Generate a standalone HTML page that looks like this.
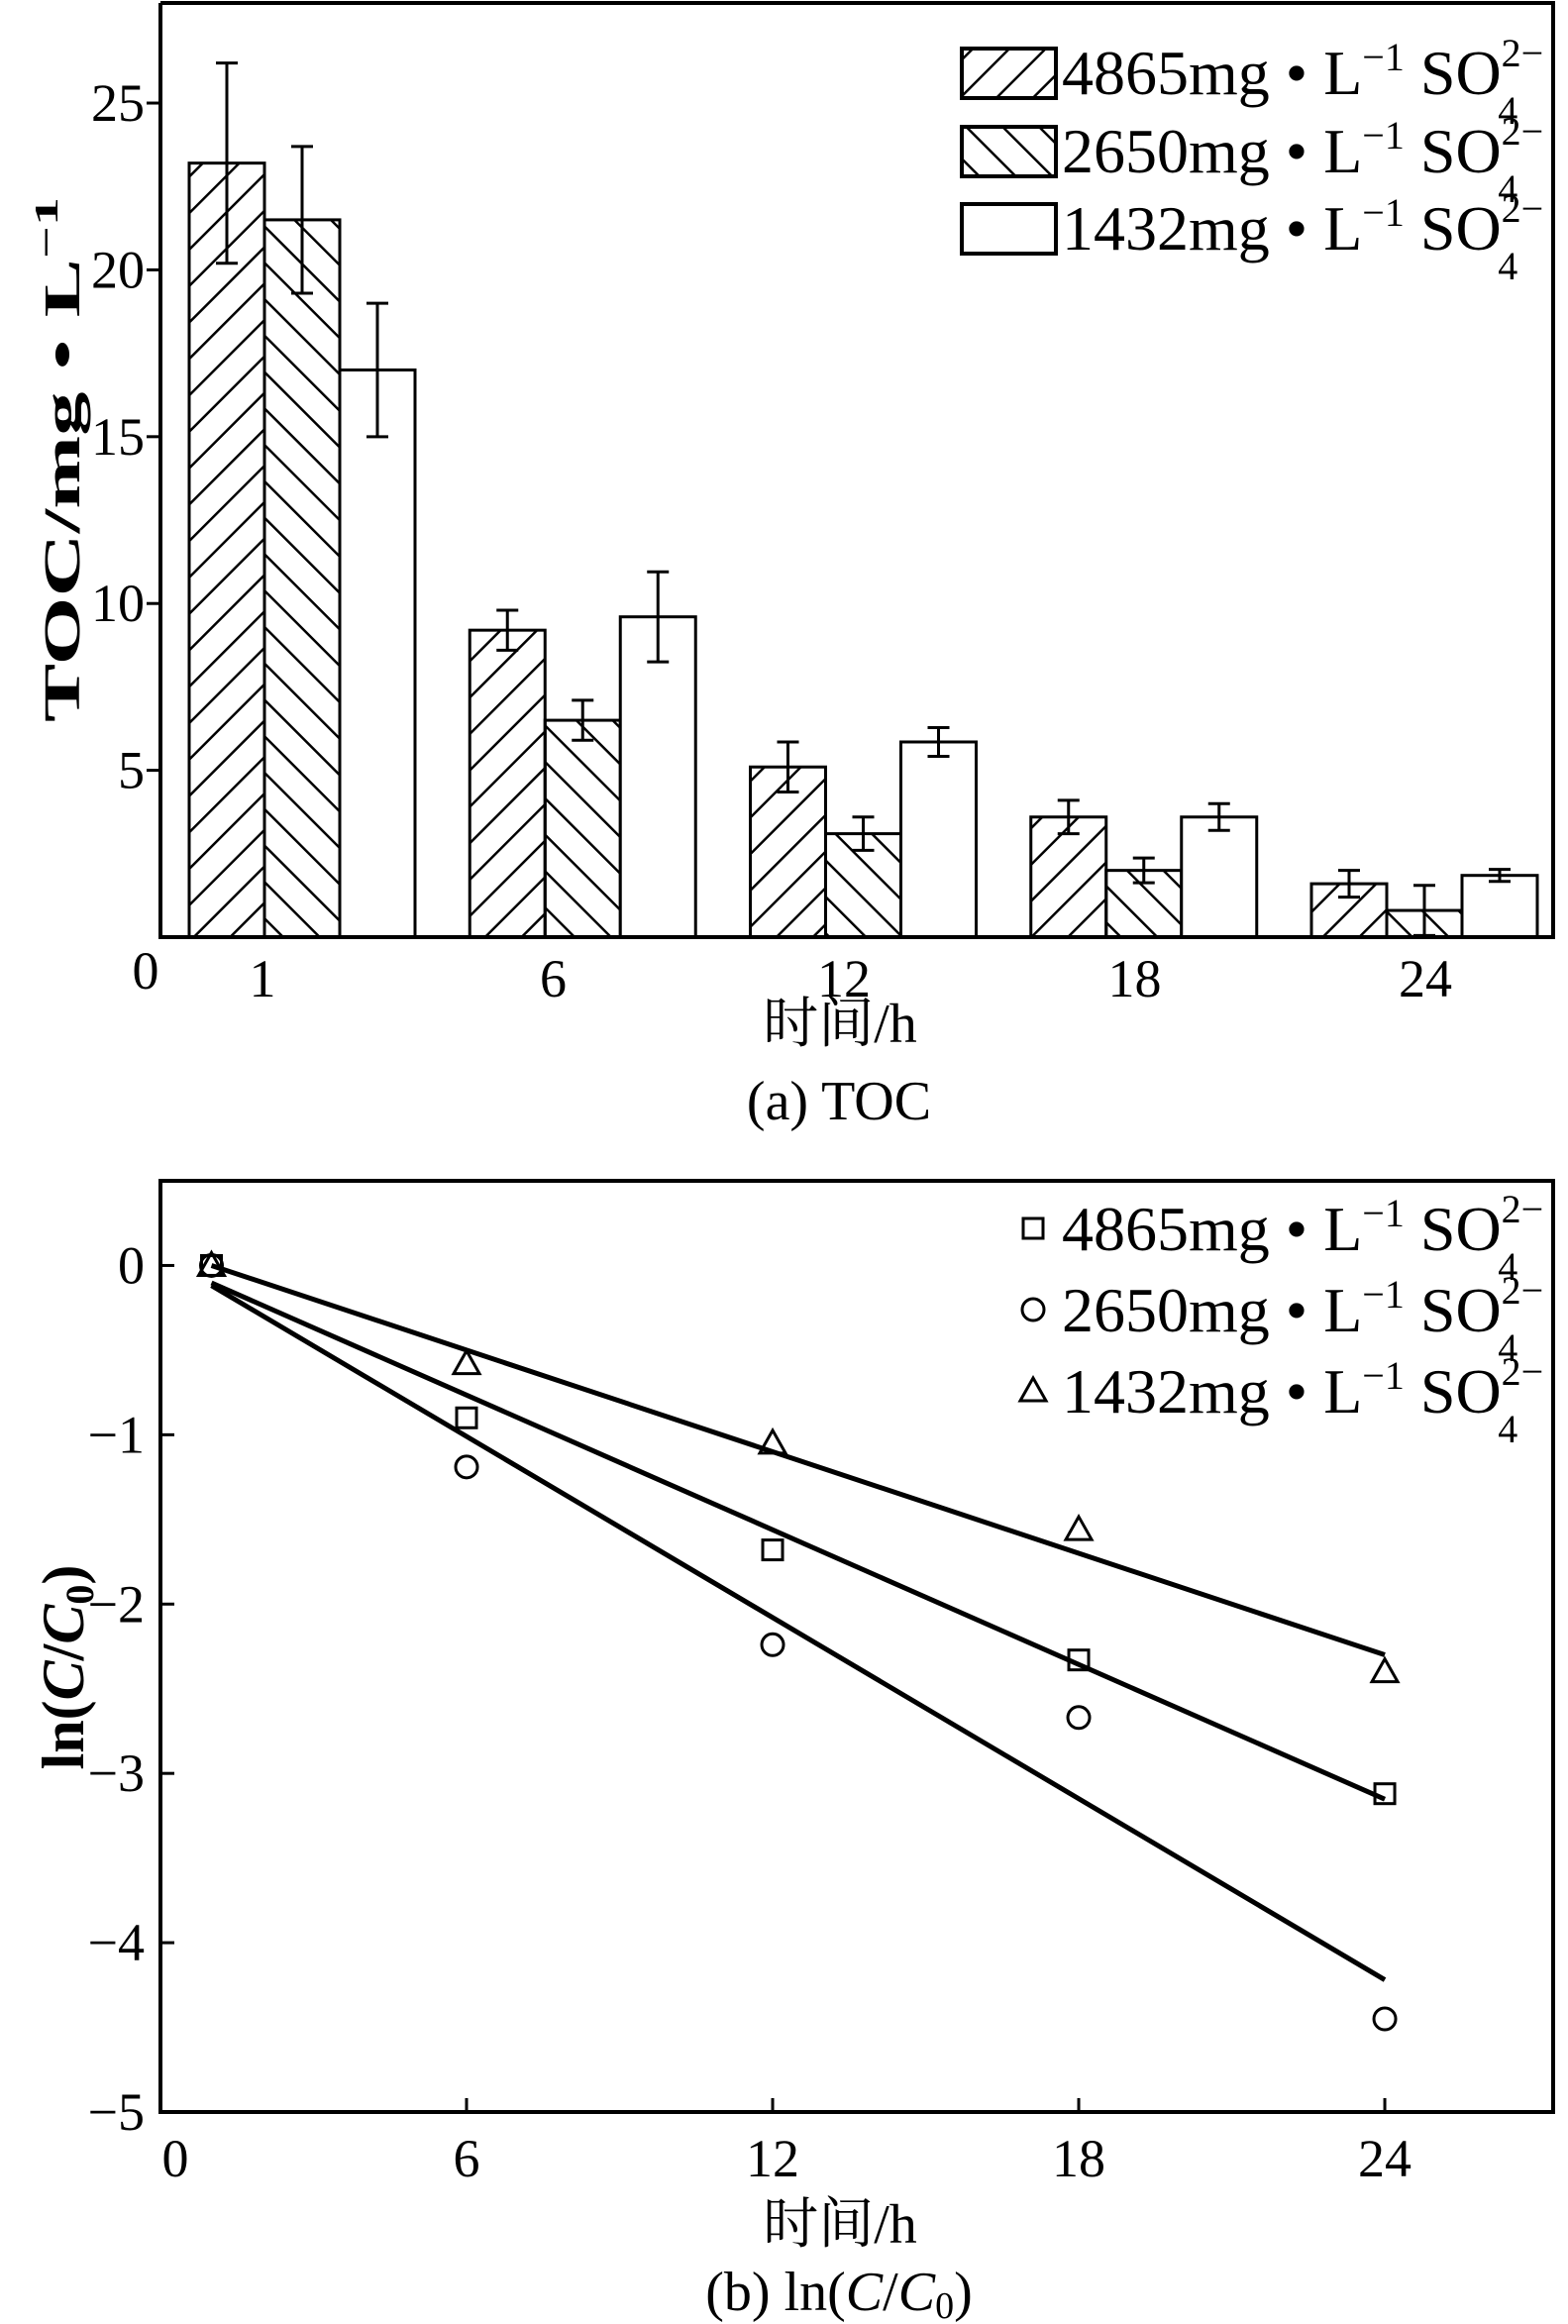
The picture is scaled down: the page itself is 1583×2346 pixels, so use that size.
<!DOCTYPE html>
<html><head><meta charset="utf-8"><style>
html,body{margin:0;padding:0;background:#fff;}
svg{display:block;font-family:"Liberation Serif","Noto Serif CJK SC","Noto Sans CJK SC",serif;}
</style></head><body>
<svg id="fig" width="1583" height="2346" viewBox="0 0 1583 2346" xmlns="http://www.w3.org/2000/svg">
<defs>
<pattern id="hatchF" patternUnits="userSpaceOnUse" width="26" height="26" patternTransform="rotate(45)">
<line x1="0" y1="0" x2="0" y2="26" stroke="#000" stroke-width="5"/></pattern>
<pattern id="hatchB" patternUnits="userSpaceOnUse" width="26" height="26" patternTransform="rotate(-45)">
<line x1="0" y1="0" x2="0" y2="26" stroke="#000" stroke-width="5"/></pattern>
</defs>
<g id="pa"></g>
<g id="pb"></g>
</svg>
<script>
// ---- Panel (a) data ----
const catsA = ["1","6","12","18","24"];
const toc4865 = [23.2, 9.2, 5.1, 3.6, 1.6];
const err4865 = [3.0, 0.6, 0.75, 0.5, 0.4];
const toc2650 = [21.5, 6.5, 3.1, 2.0, 0.8];
const err2650 = [2.2, 0.6, 0.5, 0.37, 0.75];
const toc1432 = [17.0, 9.6, 5.85, 3.6, 1.85];
const err1432 = [2.0, 1.35, 0.43, 0.4, 0.18];
const yTicksA = [5,10,15,20,25];
// ---- Panel (b) data ----
const timesB = [1,6,12,18,24];
const ln4865 = [0,-0.9,-1.68,-2.33,-3.12];
const ln2650 = [0,-1.19,-2.24,-2.67,-4.45];
const ln1432 = [0,-0.58,-1.05,-1.56,-2.40];
const fitSlopes = [-0.1326,-0.1783,-0.1];
const fitIntercepts = [0.03,0.06,0.1];
const fitRange = [1,24];
const xTicksB = [0,6,12,18,24];
const yTicksB = [0,-1,-2,-3,-4,-5];

const NS="http://www.w3.org/2000/svg";
function mk(tag, attrs, parent){const e=document.createElementNS(NS,tag);for(const k in attrs)e.setAttribute(k,attrs[k]);parent.appendChild(e);return e;}
function legendText(parent,x,y,num){
  const t=mk("text",{x:x,y:y,"font-size":64},parent);
  t.innerHTML=num+'mg • L<tspan dy="-24" font-size="40">−1</tspan><tspan dy="24"> SO</tspan><tspan dy="-28" font-size="40">2−</tspan><tspan dx="-46" dy="58" font-size="40">4</tspan>';
  
  
  return t;
}

// ===== Panel A =====
const A=document.getElementById("pa");
const aL=162,aR=1568,aT=3,aB=946,aMax=28;
const ya=v=>aB-(v/aMax)*(aB-aT);
const bw=76;
const series=[[toc4865,err4865,"url(#hatchF)","bar-4865"],[toc2650,err2650,"url(#hatchB)","bar-2650"],[toc1432,err1432,"#fff","bar-1432"]];
const gx=i=>191+i*283.25;
series.forEach((s,si)=>{
  s[0].forEach((v,i)=>{
    const x=gx(i)+si*bw;
    const r=mk("rect",{x:x,y:ya(v),width:bw,height:aB-ya(v),fill:s[2],stroke:"#000","stroke-width":3},A);
    
    
    const cx=x+bw/2, e=s[1][i];
    const eb=mk("path",{d:`M${cx},${ya(v+e)}V${ya(Math.max(0,v-e))}M${cx-11},${ya(v+e)}h22M${cx-11},${ya(Math.max(0,v-e))}h22`,stroke:"#000","stroke-width":3,fill:"none"},A);
    
    
  });
});
const fa=mk("path",{d:`M${aL},${aT}V${aB}H${aR}V${aT}H${aL}`,fill:"none",stroke:"#000","stroke-width":4},A);


yTicksA.forEach(v=>{
  const tk=mk("line",{x1:aL-14,x2:aL,y1:ya(v),y2:ya(v),stroke:"#000","stroke-width":3},A);
  
  
  const t=mk("text",{x:146,y:ya(v)+18,"text-anchor":"end","font-size":54},A);t.textContent=v;
  
  
});
{const t=mk("text",{x:147,y:998,"text-anchor":"middle","font-size":54},A);t.textContent="0";

}
catsA.forEach((c,i)=>{const t=mk("text",{x:265+i*293.5,y:1006,"text-anchor":"middle","font-size":54},A);t.textContent=c;

});
{const t=mk("text",{x:0,y:0,"text-anchor":"middle","font-size":52,"font-weight":"bold",textLength:530,lengthAdjust:"spacingAndGlyphs",transform:"translate(80,464) rotate(-90)"},A);
t.innerHTML='TOC/mg • L<tspan dy="-22" font-size="34">−1</tspan>';

}
{const t=mk("text",{x:848,y:1052,"text-anchor":"middle","font-size":56},A);t.textContent="时间/h";

}
{const t=mk("text",{x:847,y:1130,"text-anchor":"middle","font-size":56},A);t.textContent="(a) TOC";

}
const legA=[["url(#hatchF)","4865",49],["url(#hatchB)","2650",128],["#fff","1432",206]];
legA.forEach(l=>{
  const r=mk("rect",{x:971,y:l[2],width:95,height:50,fill:l[0],stroke:"#000","stroke-width":4},A);
  
  
  legendText(A,1072,l[2]+46,l[1]);
});

// ===== Panel B =====
const B=document.getElementById("pb");
const bL=162,bR=1568,bT=1192,bB=2132,xMaxB=27.3,yMinB=-5,yMaxB=0.5;
const xb=v=>bL+(v/xMaxB)*(bR-bL);
const yb=v=>bB-((v-yMinB)/(yMaxB-yMinB))*(bB-bT);
const fb=mk("rect",{x:bL,y:bT,width:bR-bL,height:bB-bT,fill:"none",stroke:"#000","stroke-width":4},B);


yTicksB.forEach(v=>{
  const tk=mk("line",{x1:bL,x2:bL+14,y1:yb(v),y2:yb(v),stroke:"#000","stroke-width":3},B);
  
  
  const t=mk("text",{x:146,y:yb(v)+18,"text-anchor":"end","font-size":54},B);t.textContent=v<0?"−"+(-v):v;
  
  
});
xTicksB.forEach(v=>{
  const tk=mk("line",{x1:xb(v),x2:xb(v),y1:bB,y2:bB-14,stroke:"#000","stroke-width":3},B);
  
  
  const t=mk("text",{x:v===0?xb(v)+15:xb(v),y:2197,"text-anchor":"middle","font-size":54},B);t.textContent=v;
  
  
});
fitSlopes.forEach((m,i)=>{
  const b=fitIntercepts[i];
  const ln=mk("line",{x1:xb(fitRange[0]),y1:yb(m*fitRange[0]+b),x2:xb(fitRange[1]),y2:yb(m*fitRange[1]+b),stroke:"#000","stroke-width":5},B);
  
  
});
function marker(type,cx,cy,parent){
  let e;
  if(type==="sq") e=mk("rect",{x:cx-10,y:cy-10,width:20,height:20,fill:"none",stroke:"#000","stroke-width":3},parent);
  else if(type==="ci") e=mk("circle",{cx:cx,cy:cy,r:11,fill:"none",stroke:"#000","stroke-width":3},parent);
  else e=mk("path",{d:`M${cx},${cy-13}L${cx+13},${cy+10}L${cx-13},${cy+10}Z`,fill:"none",stroke:"#000","stroke-width":3},parent);
  return e;
}
[[ln4865,"sq","point-4865"],[ln2650,"ci","point-2650"],[ln1432,"tr","point-1432"]].forEach(s=>{
  s[0].forEach((v,i)=>{
    const e=marker(s[1],xb(timesB[i]),yb(v),B);
    
    
  });
});
[["sq","4865",1240],["ci","2650",1322],["tr","1432",1404]].forEach(l=>{
  const e=marker(l[0],1043,l[2],B);
  
  
  legendText(B,1072,l[2]+22,l[1]);
});
{const t=mk("text",{x:0,y:0,"text-anchor":"middle","font-size":60,"font-weight":"bold",transform:"translate(84,1683) rotate(-90)"},B);
t.innerHTML='ln(<tspan font-style="italic">C</tspan>/<tspan font-style="italic">C</tspan><tspan dy="10" font-size="40">0</tspan><tspan dy="-10">)</tspan>';

}
{const t=mk("text",{x:848,y:2264,"text-anchor":"middle","font-size":56},B);t.textContent="时间/h";

}
{const t=mk("text",{x:847,y:2332,"text-anchor":"middle","font-size":56},B);
t.innerHTML='(b) ln(<tspan font-style="italic">C</tspan>/<tspan font-style="italic">C</tspan><tspan dy="8" font-size="38">0</tspan><tspan dy="-8">)</tspan>';

}
</script>
</body></html>
